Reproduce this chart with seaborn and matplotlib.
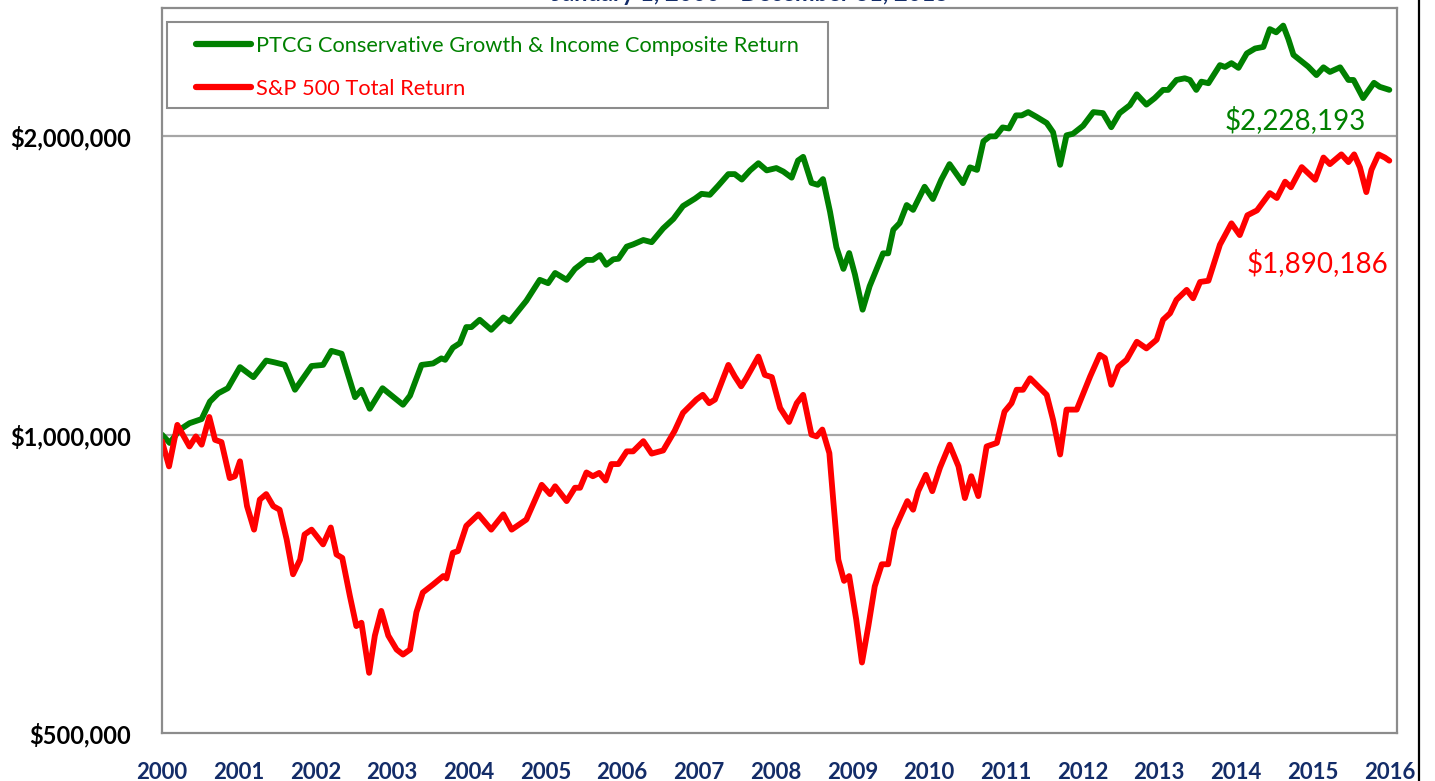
import matplotlib
matplotlib.use("Agg")
import matplotlib.pyplot as plt
from matplotlib.ticker import FuncFormatter, FixedLocator, NullLocator, MultipleLocator
from matplotlib.lines import Line2D
from matplotlib.patches import Rectangle
import numpy as np
import pandas as pd
import seaborn as sns

# Values: months since Jan 2000, growth of $1,000,000 (in $ thousands)
ptcg_month = [0, 1.2, 2.8, 4.3, 6.2, 7.5, 8.8, 10.3, 12.2, 14.3, 16.3, 17.6, 19.2, 20.8, 23.4,
              25.2, 26.5, 28.1, 30.2, 31.2, 32.5, 34.5, 37.7, 38.8, 40.6, 42.4, 43.7, 44.3, 45.5,
              46.6, 47.6, 48.4, 49.7, 51.5, 53.4, 54.4, 57.0, 59.1, 60.4, 61.5, 63.3, 64.6, 66.4,
              67.4, 68.5, 69.5, 70.6, 71.4, 72.7, 73.7, 75.3, 76.6, 78.4, 80.0, 81.5, 83.4, 84.4,
              85.7, 87.0, 88.6, 89.6, 90.7, 92.0, 93.3, 94.6, 96.1, 97.2, 98.5, 99.5, 100.3,
              101.6, 102.6, 103.4, 104.5, 105.5, 106.6, 107.5, 108.4, 109.6, 110.7, 111.8, 112.8,
              113.6, 114.4, 115.4, 116.5, 117.5, 119.3, 120.6, 121.9, 123.2, 125.3, 126.4, 127.5,
              128.5, 129.5, 130.4, 131.5, 132.5, 133.6, 134.5, 135.5, 136.8, 138.4, 139.4, 140.5,
              141.5, 142.5, 144.1, 145.7, 147.2, 148.5, 149.8, 151.4, 152.5, 154.0, 155.3, 156.6,
              157.4, 158.7, 160.0, 160.8, 161.8, 162.6, 163.7, 165.5, 166.3, 167.3, 168.4, 169.7,
              171.0, 172.3, 173.3, 174.3, 175.4, 176.2, 177.0, 178.3, 179.3, 180.6, 181.7, 182.7,
              184.3, 185.6, 186.4, 187.9, 189.6, 190.5, 192]
ptcg_value = [1000, 981, 1012, 1027, 1037, 1080, 1101, 1114, 1170, 1143, 1188, 1183, 1176, 1110, 1173,
              1176, 1215, 1207, 1091, 1110, 1062, 1114, 1072, 1095, 1176, 1180, 1194, 1190, 1224,
              1237, 1284, 1284, 1306, 1276, 1313, 1301, 1365, 1433, 1422, 1456, 1433, 1470, 1501,
              1501, 1518, 1484, 1503, 1505, 1548, 1556, 1572, 1564, 1615, 1651, 1701, 1731, 1750,
              1746, 1783, 1832, 1832, 1809, 1848, 1879, 1848, 1858, 1843, 1817, 1891, 1907,
              1795, 1787, 1811, 1679, 1546, 1470, 1525, 1451, 1337, 1412, 1470, 1524,
              1524, 1610, 1635, 1705, 1686, 1779, 1729, 1808, 1875, 1794, 1861, 1850,
              1977, 2000, 2000, 2042, 2037, 2100, 2100, 2116, 2093, 2063, 2019, 1872,
              2005, 2012, 2050, 2116, 2111, 2043, 2111, 2150, 2205, 2153, 2186, 2228,
              2228, 2280, 2289, 2280, 2228, 2271, 2263, 2360, 2350, 2371, 2345, 2425,
              2453, 2462, 2566, 2547, 2587, 2508, 2417, 2380, 2352, 2306, 2348, 2323,
              2348, 2280, 2280, 2186, 2265, 2244, 2228.193]

sp_month = [0, 1.1, 2.4, 4.3, 5.3, 6.2, 7.4, 8.3, 9.3, 10.6, 11.4, 12.2, 13.3, 14.4, 15.3, 16.3,
            17.4, 18.4, 19.5, 20.5, 21.6, 22.3, 23.4, 25.2, 26.4, 27.3, 28.2, 29.4, 30.4, 31.2,
            32.4, 33.3, 34.3, 35.4, 36.7, 37.7, 38.8, 39.8, 40.8, 42.4, 44.0, 44.5, 45.5, 46.3,
            47.6, 49.5, 51.5, 53.4, 54.7, 57.0, 59.4, 60.7, 61.5, 63.3, 64.6, 65.4, 66.4, 67.4,
            68.4, 69.4, 70.3, 71.4, 72.7, 73.7, 75.3, 76.6, 78.4, 80.2, 81.5, 83.6, 84.6, 85.6,
            86.5, 88.6, 89.6, 90.6, 91.4, 93.3, 94.3, 95.4, 96.7, 98.1, 99.3, 100.3, 101.6,
            102.4, 103.3, 104.4, 105.0, 105.8, 106.7, 107.5, 108.6, 109.5, 110.5, 111.5, 112.6,
            113.6, 114.6, 115.4, 116.6, 117.5, 118.3, 119.5, 120.5, 121.7, 123.2, 124.6, 125.6,
            126.6, 127.7, 129.0, 130.6, 131.8, 132.9, 133.7, 134.7, 135.8, 138.4, 139.4, 140.5,
            141.5, 143.1, 145.2, 146.7, 147.5, 148.5, 149.6, 150.9, 152.5, 154.0, 155.6, 156.6,
            157.7, 158.7, 160.3, 161.3, 162.4, 163.7, 165.5, 167.3, 168.6, 169.8, 171.3, 173.3,
            174.4, 175.7, 176.6, 178.3, 180.4, 181.7, 182.7, 184.5, 185.6, 186.5, 187.4, 188.4,
            189.2, 190.3, 191.3, 192]
sp_value = [985, 929, 1023, 973, 996, 977, 1042, 988, 983, 904, 908, 940, 847, 802, 860, 871,
            847, 840, 784, 723, 748, 793, 802, 775, 806, 757, 751, 687, 641, 646,
            575, 627, 664, 627, 607, 600, 607, 662, 693, 706, 720, 716, 760, 763,
            809, 831, 802, 831, 802, 821, 890, 871, 887, 857, 884, 884, 916, 908,
            915, 899, 934, 934, 962, 962, 985, 957, 964, 1009, 1052, 1085, 1097, 1076,
            1085, 1176, 1145, 1119, 1140, 1199, 1149, 1143, 1064, 1030, 1076, 1097, 1000,
            996, 1012, 958, 860, 748, 712, 720, 651, 589, 641, 703, 740,
            740, 802, 824, 857, 840, 877, 911, 877, 926, 977, 929, 863,
            908, 867, 973, 981, 1055, 1076, 1110, 1110, 1140, 1097, 1035, 955,
            1060, 1060, 1145, 1204, 1195, 1123, 1171, 1190, 1241, 1222, 1247, 1306,
            1326, 1368, 1400, 1373, 1426, 1430, 1555, 1634, 1590, 1665, 1684, 1753,
            1733, 1800, 1777, 1862, 1808, 1904, 1875, 1918, 1884, 1918, 1861, 1757,
            1850, 1918, 1904, 1890.186]

series_names = ["PTCG Conservative Growth & Income Composite Return", "S&P 500 Total Return"]
series_colors = ["#008000", "#FF0000"]
end_labels = ["$2,228,193", "$1,890,186"]
year_ticks = list(range(2000, 2017))
y_ticks = [500000, 1000000, 2000000]
title_text = "January 1, 2000 - December 31, 2015"

ptcg = pd.DataFrame({"year": 2000 + np.array(ptcg_month) / 12, "value": np.array(ptcg_value) * 1000})
sp = pd.DataFrame({"year": 2000 + np.array(sp_month) / 12, "value": np.array(sp_value) * 1000})

sns.set_style("white")
plt.rcParams["font.family"] = ["Lato", "DejaVu Sans"]

navy = "#132C68"
grey = "#8C8C8C"
W, H = 1435, 781

fig = plt.figure(figsize=(W / 100, H / 100), dpi=100)
ax = fig.add_axes([162 / W, 1 - 733 / H, (1397 - 162) / W, (733 - 8) / H])

for df, name, col in zip([ptcg, sp], series_names, series_colors):
    sns.lineplot(data=df, x="year", y="value", ax=ax, color=col, linewidth=4.2,
                 label=name, solid_joinstyle="round", solid_capstyle="round")

ax.set_yscale("log")
ax.set_ylim(500000, 2695000)
ax.set_xlim(2000, 2016.1)
ax.yaxis.set_major_locator(FixedLocator(y_ticks))
ax.yaxis.set_minor_locator(NullLocator())
ax.yaxis.set_major_formatter(FuncFormatter(lambda v, p: "${:,.0f}".format(v)))
ax.xaxis.set_major_locator(FixedLocator(year_ticks))
ax.xaxis.set_minor_locator(MultipleLocator(0.5))
ax.xaxis.set_major_formatter(FuncFormatter(lambda v, p: "{:d}".format(int(round(v)))))
ax.set_xlabel("")
ax.set_ylabel("")

for yv in y_ticks[1:]:
    ax.axhline(yv, color="#A6A6A6", linewidth=1.6, zorder=0)

for s in ax.spines.values():
    s.set_color(grey)
    s.set_linewidth(1.6)

ax.tick_params(axis="y", which="both", length=0, pad=22, labelsize=17, labelcolor="black")
ax.tick_params(axis="x", which="major", direction="in", length=8, width=1.4, color=grey,
               pad=21, labelsize=16, labelcolor=navy)
ax.tick_params(axis="x", which="minor", direction="in", length=5, width=1.4, color=grey)
for lab in ax.get_yticklabels():
    lab.set_fontweight("bold")
for lab in ax.get_xticklabels():
    lab.set_fontweight("bold")

# legend: entries without frame, frame drawn as its own box
leg = ax.legend(loc="upper left", bbox_to_anchor=(196 / W, 1 - 36 / H),
                bbox_transform=fig.transFigure, borderaxespad=0, borderpad=0,
                fontsize=15.7, labelcolor="linecolor", handlelength=2.5, handletextpad=0.23,
                labelspacing=1.05, frameon=False)
for h in leg.get_lines():
    h.set_linewidth(4.5)
fig.add_artist(Rectangle((167 / W, 1 - 108 / H), (828 - 167) / W, (108 - 22) / H,
                         transform=fig.transFigure, facecolor="none", edgecolor=grey,
                         linewidth=1.5, zorder=5))

# end-of-period values
ax.annotate(end_labels[0], xy=(ptcg["year"].iloc[-1], ptcg["value"].iloc[-1]),
            xytext=(-17, -22), textcoords="offset points", ha="right", va="center",
            fontsize=20, color=series_colors[0])
ax.annotate(end_labels[1], xy=(sp["year"].iloc[-1], sp["value"].iloc[-1]),
            xytext=(-1, -74), textcoords="offset points", ha="right", va="center",
            fontsize=20, color=series_colors[1])

# title cut off at the top edge
fig.text(0.523, 0.9985, title_text, ha="center", va="baseline", fontsize=17,
         color=navy, fontweight="bold")

# right border of the original frame
fig.add_artist(Rectangle((1420 / W, 0), 1, 1, transform=fig.transFigure,
                         facecolor="white", edgecolor="none", zorder=10))
fig.add_artist(Line2D([1419 / W, 1419 / W], [0, 1], transform=fig.transFigure,
                      color="black", linewidth=1.6, zorder=11))

plt.savefig("out.png", dpi=100)
plt.close("all")
